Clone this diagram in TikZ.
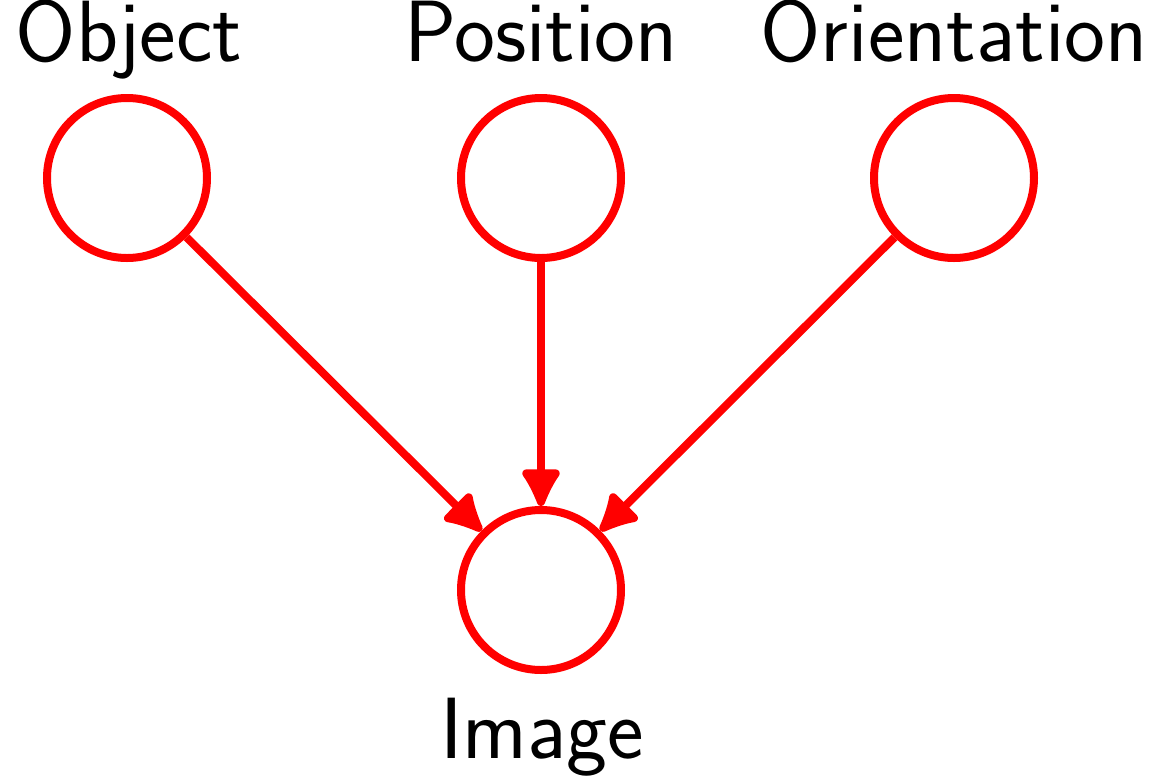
\documentclass[tikz,border=0pt]{standalone}
\usetikzlibrary{arrows.meta}
\begin{document}
\begin{tikzpicture}[x=0.5pt,y=-0.5pt,
  var/.style={circle,draw=red,line width=4pt,inner sep=0pt,minimum size=80pt},
  lbl/.style={font=\sffamily\fontsize{43.5}{50}\selectfont,anchor=base,inner sep=0pt},
  edge/.style={draw=red,line width=4pt,-{Latex[length=22.5pt,width=23pt,round]}}]
\useasboundingbox (0,0) rectangle (1158,783);
\node[var] (obj) at (127,178) {};
\node[var] (pos) at (541,178) {};
\node[var] (ori) at (954,178) {};
\node[var] (img) at (541,590) {};
\node[lbl] (lobj) at (129,61) {Object};
\node[lbl] (lpos) at (541,61) {Position};
\node[lbl] (lori) at (954,61) {Orientation};
\node[lbl] (limg) at (542,758) {Image};
\draw[edge] (obj) -- (img);
\draw[edge] (pos) -- (img);
\draw[edge] (ori) -- (img);
\end{tikzpicture}
\end{document}
